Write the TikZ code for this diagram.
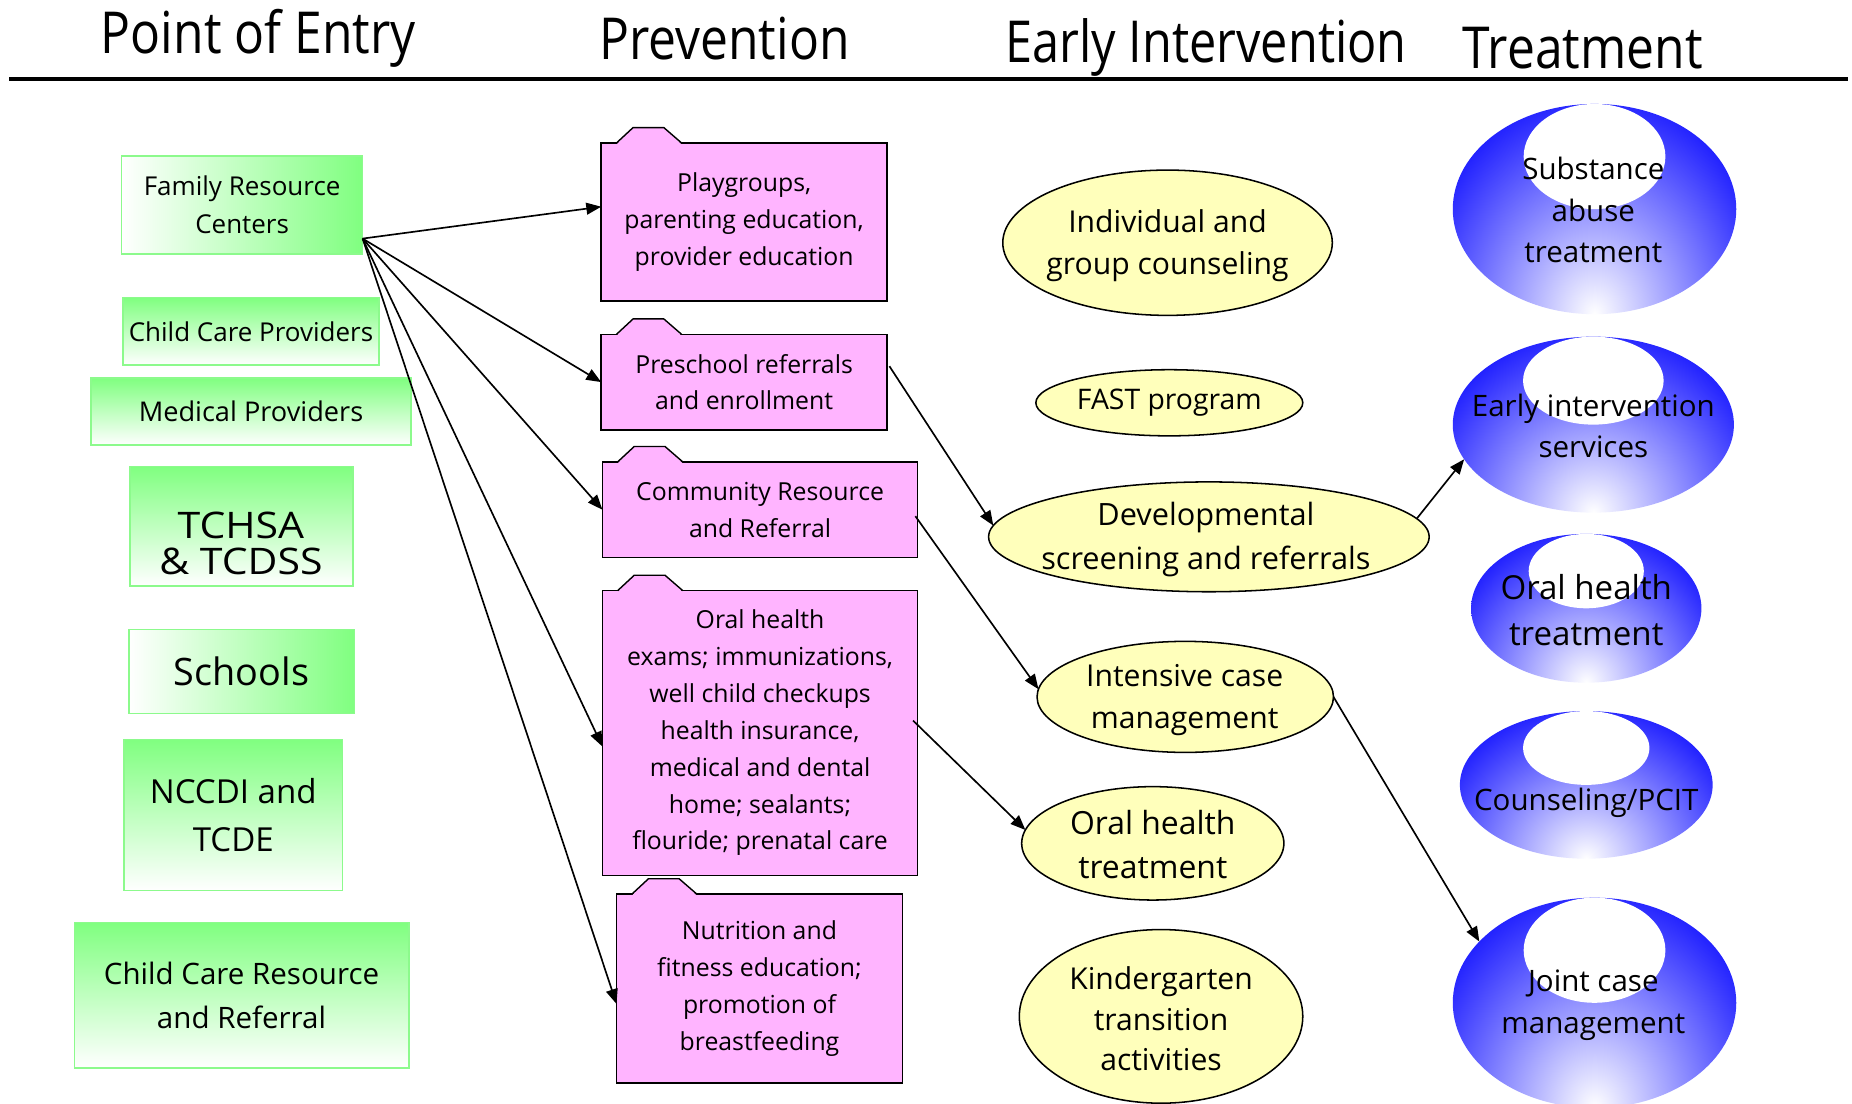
\documentclass[tikz,border=0pt]{standalone}
\usepackage{fontspec}
\setmainfont{Open Sans}
\usetikzlibrary{arrows.meta,shapes.geometric,calc}
\definecolor{gfill}{RGB}{128,255,128}
\definecolor{gline}{RGB}{140,250,140}
\definecolor{pinkf}{RGB}{255,180,255}
\definecolor{yell}{RGB}{255,255,187}
\definecolor{bluef}{RGB}{0,0,255}
\newcommand\fs[2]{\fontsize{#1}{#2}\selectfont}
\newcommand\ptab[1]{%
  \fill[pinkf] ($(#1.north west)+(13,1.2)$) -- ($(#1.north west)+(27,-13)$) -- ($(#1.north west)+(53,-13)$) -- ($(#1.north west)+(68,1.2)$) -- cycle;
  \draw[line width=0.6pt, line join=round] ($(#1.north west)+(13,0)$) -- ($(#1.north west)+(27,-13)$) -- ($(#1.north west)+(53,-13)$) -- ($(#1.north west)+(68,0)$);
}
\newcommand\blueoval[5]{%
  \begin{scope}
    \clip (#1,#2) ellipse [x radius=#3, y radius=#4];
    \shade[inner color=white, outer color=bluef] (#1,#2+#4) ellipse [x radius=1.45*#3, y radius=2.4*#4];
    \fill[white] (#1,#2-#4/2) ellipse [x radius=#3/2, y radius=#4/2];
  \end{scope}
  \node[ellipse, inner sep=0, outer sep=0, minimum width=#3pt, minimum height=#4pt] (#5) at (#1,#2) {};
}
\tikzset{
  gbox/.style={rectangle, draw=gline, line width=0.7pt, inner sep=0, outer sep=0, align=center},
  ghor/.style={gbox, left color=white, right color=gfill},
  gver/.style={gbox, top color=gfill, bottom color=white},
  pbox/.style={rectangle, fill=pinkf, draw=black, line width=0.6pt, inner sep=0, outer sep=0, align=center, font=\fs{10.5pt}{15.6pt}},
  yov/.style={ellipse, fill=yell, draw=black, line width=0.65pt, inner sep=0, outer sep=0},
  otext/.style={align=center, inner sep=0, font=\fs{12.75pt}{18pt}},
  btext/.style={align=center, inner sep=0, font=\fs{12.5pt}{17.5pt}},
  arr/.style={-{Triangle[length=6.3pt,width=5pt]}, line width=0.7pt},
  head/.style={anchor=base west, inner sep=0, font=\fs{24.5pt}{28pt}},
}
\begin{document}
\begin{tikzpicture}[x=0.5pt, y=-0.5pt]
\useasboundingbox (0,0) rectangle (1568,934);
\fill[white] (0,0) rectangle (1568,934);

% headers
\node[head] (h1) at (85,45) {\scalebox{0.86}[1]{Point of Entry}};
\node[head] (h2) at (507,50) {\scalebox{0.86}[1]{Prevention}};
\node[head] (h3) at (851,53) {\scalebox{0.84}[1]{Early Intervention}};
\node[head] (h4) at (1238,58) {\scalebox{0.86}[1]{Treatment}};
\draw[line width=1.5pt] (8,67) -- (1565,67);

% point of entry
\node[ghor, minimum width=102pt, minimum height=41.5pt, font=\fs{11pt}{16pt}] (frc) at (205,173.5) {Family Resource\\Centers};
\node[gver, minimum width=108.5pt, minimum height=28.5pt, font=\fs{11pt}{16pt}] (ccp) at (212.5,280.5) {Child Care Providers};
\node[gver, minimum width=135.5pt, minimum height=28.5pt, font=\fs{11.5pt}{16pt}] (med) at (212.5,348.5) {Medical Providers};
\node[gver, minimum width=94.5pt, minimum height=50.5pt] (tch) at (204.5,445.5) {};
\node[align=center, inner sep=0, font=\fs{15.5pt}{15.5pt}] (tcht) at (204,460) {\scalebox{1.12}[1]{TCHSA}\\\scalebox{1.12}[1]{\& TCDSS}};
\node[ghor, minimum width=95.5pt, minimum height=35.5pt, font=\fs{16pt}{20pt}] (sch) at (204.5,568.5) {Schools};
\node[gver, minimum width=92.5pt, minimum height=64pt, font=\fs{14pt}{20pt}] (ncc) at (197.5,690) {NCCDI and\\TCDE};
\node[gver, minimum width=141.5pt, minimum height=61.5pt, font=\fs{12.5pt}{18.5pt}] (ccr) at (204.5,842.5) {Child Care Resource\\and Referral};

% prevention
\node[pbox, minimum width=121pt, minimum height=67pt] (play) at (630,188) {Playgroups,\\parenting education,\\provider education};
\ptab{play}
\node[pbox, minimum width=121pt, minimum height=40.5pt] (pre) at (630,323.5) {Preschool referrals\\and enrollment};
\ptab{pre}
\node[pbox, minimum width=133.5pt, minimum height=40.5pt] (com) at (643.5,431.5) {Community Resource\\and Referral};
\ptab{com}
\node[pbox, minimum width=133.5pt, minimum height=120.5pt] (oral) at (643.5,620.5) {Oral health\\exams; immunizations,\\well child checkups\\health insurance,\\medical and dental\\home; sealants;\\flouride; prenatal care};
\ptab{oral}
\node[pbox, minimum width=121pt, minimum height=80pt] (nut) at (643,837) {Nutrition and\\fitness education;\\promotion of\\breastfeeding};
\ptab{nut}

% early intervention
\node[yov, minimum width=139.5pt, minimum height=61.5pt] (ind) at (988.5,205.5) {};
\node[otext] (indt) at (988.5,208) {Individual and\\group counseling};
\node[yov, minimum width=113pt, minimum height=28pt] (fast) at (990,341) {};
\node[otext, font=\fs{12pt}{16pt}] (fastt) at (990,341) {FAST program};
\node[yov, minimum width=186.5pt, minimum height=46.5pt] (dev) at (1023.5,454.5) {};
\node[otext, font=\fs{13pt}{18.5pt}] (devt) at (1021,457) {Developmental\\screening and referrals};
\node[yov, minimum width=125.5pt, minimum height=47pt] (int) at (1003.5,590) {};
\node[otext] (intt) at (1003,592.5) {Intensive case\\management};
\node[yov, minimum width=111pt, minimum height=48pt] (oht) at (976,714) {};
\node[otext, font=\fs{13.5pt}{19pt}] (ohtt) at (976,715) {Oral health\\treatment};
\node[yov, minimum width=120pt, minimum height=73.5pt] (kin) at (983,860.5) {};
\node[otext, font=\fs{12.75pt}{17.25pt}] (kint) at (983,862.5) {Kindergarten\\transition\\activities};

% treatment
\blueoval{1350}{177}{120}{89}{sub}
\node[btext] (subt) at (1349,178) {Substance\\abuse\\treatment};
\blueoval{1349}{359.5}{119}{74.5}{early}
\node[btext] (earlyt) at (1349,360.5) {Early intervention\\services};
\blueoval{1343}{515}{97.5}{63}{ohb}
\node[btext, font=\fs{14pt}{19.5pt}] (ohbt) at (1343,516.5) {Oral health\\treatment};
\blueoval{1343}{664.5}{107}{62.5}{cpc}
\node[btext] (cpct) at (1343,680) {Counseling/PCIT};
\blueoval{1350}{849}{120}{89}{joint}
\node[btext] (jointt) at (1349,851) {Joint case\\management};

% connectors
\coordinate (frcout) at ([yshift=6.5pt]frc.south east);
\draw[arr] (frcout) -- ([yshift=6.5pt]play.west);
\draw[arr] (frcout) -- (pre.west);
\draw[arr] (frcout) -- (com.west);
\draw[arr] (frcout) -- ([yshift=-5.75pt]oral.west);
\draw[arr] (frcout) -- ([yshift=-6.5pt]nut.west);
\draw[arr] ([xshift=1pt,yshift=6.75pt]pre.east) -- (dev.177);
\draw[arr] ([xshift=-1pt,yshift=-2.75pt]com.east) -- (int.177);
\draw[arr] ([xshift=-2pt,yshift=5.25pt]oral.east) -- (oht.174);
\draw[arr] (dev.5) -- (early.195);
\draw[arr] (int.east) -- (joint.152);
\end{tikzpicture}
\end{document}
